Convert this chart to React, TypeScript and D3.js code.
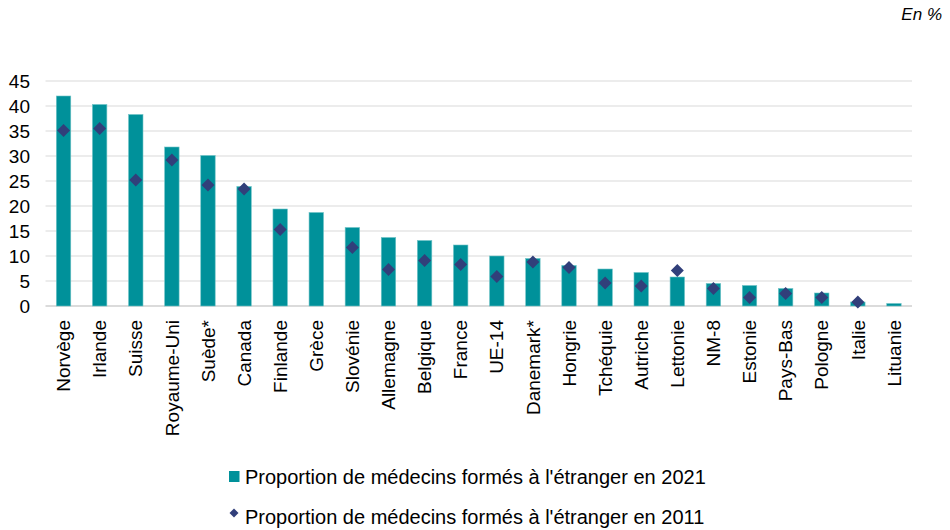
import React from 'react';
import * as d3 from 'd3';

const categories = [
  'Norvège', 'Irlande', 'Suisse', 'Royaume-Uni', 'Suède*', 'Canada', 'Finlande', 'Grèce',
  'Slovénie', 'Allemagne', 'Belgique', 'France', 'UE-14', 'Danemark*', 'Hongrie', 'Tchéquie',
  'Autriche', 'Lettonie', 'NM-8', 'Estonie', 'Pays-Bas', 'Pologne', 'Italie', 'Lituanie',
];
const values2021 = [42.0, 40.3, 38.3, 31.8, 30.1, 23.9, 19.4, 18.7, 15.7, 13.7, 13.1, 12.2, 10.0, 9.5, 8.1, 7.4, 6.7, 5.8, 4.5, 4.1, 3.5, 2.6, 0.8, 0.5];
const values2011: (number | null)[] = [35.1, 35.5, 25.2, 29.2, 24.2, 23.4, 15.3, null, 11.7, 7.3, 9.1, 8.3, 5.9, 8.8, 7.7, 4.6, 4.0, 7.1, 3.5, 1.7, 2.5, 1.7, 0.8, null];
const yTicks = [0, 5, 10, 15, 20, 25, 30, 35, 40, 45];
const legendLabels = [
  "Proportion de médecins formés à l'étranger en 2021",
  "Proportion de médecins formés à l'étranger en 2011",
];

const width = 950;
const height = 530;
const left = 45.5;
const right = 912;
const top = 81;
const bottom = 306;

const barColor = '#00919A';
const dotColor = '#313F7A';
const font = 'Arial, "Liberation Sans", sans-serif';

const diamond = (cx: number, cy: number, r: number) =>
  `M${cx},${cy - r}L${cx + r},${cy}L${cx},${cy + r}L${cx - r},${cy}Z`;

export default function App() {
  const x = d3.scaleBand<string>()
    .domain(categories)
    .range([left, right])
    .paddingInner(0.6)
    .paddingOuter(0.3);

  const y = d3.scaleLinear().domain([0, 45]).range([bottom, top]);

  return (
    <svg width={width} height={height} style={{ position: 'absolute', left: 0, top: 0, background: '#fff' }}>
      <text x={942} y={20} textAnchor="end" fontFamily={font} fontSize={17} fontStyle="italic" fill="#000">En %</text>

      {/* grid */}
      {yTicks.map(t => (
        <g key={t}>
          <line x1={left} x2={right} y1={y(t)} y2={y(t)}
            stroke={t === 0 ? '#CFCFCF' : '#D9D9D9'} strokeWidth={t === 0 ? 1.6 : 1} />
          <text x={30} y={y(t)} dy="0.36em" textAnchor="end" fontFamily={font} fontSize={19} fill="#000">{t}</text>
        </g>
      ))}

      {/* bars */}
      {categories.map((c, i) => (
        <rect key={c} x={x(c)} y={y(values2021[i])} width={x.bandwidth()} height={y(0) - y(values2021[i])}
          fill={barColor} stroke="#6FC3C7" strokeWidth={0.6} />
      ))}

      {/* 2011 markers */}
      {categories.map((c, i) => {
        const v = values2011[i];
        if (v == null) return null;
        return <path key={c} d={diamond(x(c)! + x.bandwidth() / 2, y(v), 6.5)} fill={dotColor} />;
      })}

      {/* category labels */}
      {categories.map(c => {
        const cx = x(c)! + x.bandwidth() / 2;
        return (
          <text key={c} transform={`translate(${cx},320) rotate(-90)`} dy="0.35em" textAnchor="end"
            fontFamily={font} fontSize={19} fill="#000">{c}</text>
        );
      })}

      {/* legend */}
      <rect x={229} y={471} width={10.5} height={11} fill={barColor} />
      <text x={245} y={484} fontFamily={font} fontSize={20} fill="#000">{legendLabels[0]}</text>
      <path d={diamond(234, 513, 4.5)} fill={dotColor} />
      <text x={245} y={524} fontFamily={font} fontSize={20} fill="#000">{legendLabels[1]}</text>
    </svg>
  );
}
